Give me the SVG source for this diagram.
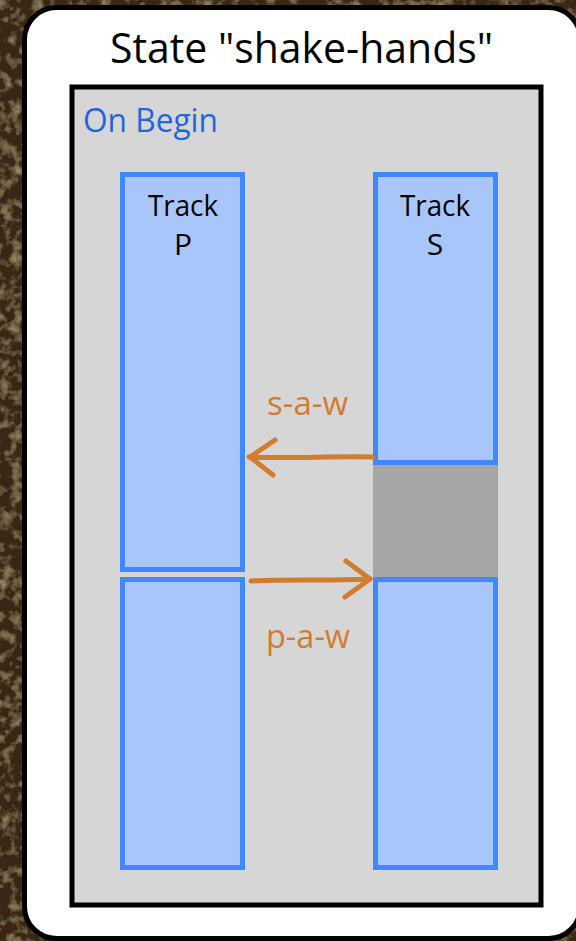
<svg xmlns="http://www.w3.org/2000/svg" width="576" height="941" viewBox="0 0 576 941">
  <defs>
    <filter id="wood" x="0" y="0" width="100%" height="100%">
      <feTurbulence type="fractalNoise" baseFrequency="0.09" numOctaves="3" seed="4" result="n"/>
      <feColorMatrix in="n" type="matrix" values="0 0 0 0 0.45  0 0 0 0 0.36  0 0 0 0 0.18  1.6 0 0 0 -0.75" result="c"/>
      <feComposite in="c" in2="SourceGraphic" operator="over"/>
    </filter>
    <style>
      .track { fill: #a9c6fb; stroke: #3f88ff; stroke-width: 5; }
      .lbl { font-family: "Open Sans", "Liberation Sans", sans-serif; }
      .trk { font-size: 30px; fill: #000000; text-anchor: middle; }
      .edge { fill: none; stroke: #d17c2e; stroke-width: 5; stroke-linecap: round; stroke-linejoin: round; }
      .elbl { font-size: 32px; fill: #d17c2e; }
    </style>
  </defs>
  <rect x="0" y="0" width="576" height="941" fill="#3a2814" filter="url(#wood)"/>
  <g id="state">
    <rect x="24.5" y="7.5" width="556" height="931" rx="32" fill="#ffffff" stroke="#000000" stroke-width="5"/>
    <text class="lbl" x="110" y="63" font-size="42" textLength="383" lengthAdjust="spacingAndGlyphs" fill="#000000">State "shake-hands"</text>
  </g>
  <g id="on-begin">
    <rect x="72" y="87" width="469" height="818" fill="#d6d6d6" stroke="#000000" stroke-width="5"/>
    <text class="lbl" x="83" y="132" font-size="33" textLength="135" lengthAdjust="spacingAndGlyphs" fill="#1f66e0">On Begin</text>
  </g>
  <g id="track-s-wait">
    <rect x="373" y="462" width="125" height="118" fill="#a6a6a6"/>
  </g>
  <g id="track-p-upper">
    <rect class="track" x="122.5" y="174.5" width="120" height="395"/>
    <text class="lbl trk" x="183" y="216" textLength="70" lengthAdjust="spacingAndGlyphs">Track</text>
    <text class="lbl trk" x="183" y="255">P</text>
  </g>
  <g id="track-p-lower">
    <rect class="track" x="122.5" y="579.5" width="120" height="288"/>
  </g>
  <g id="track-s-upper">
    <rect class="track" x="375.5" y="174.5" width="120" height="288"/>
    <text class="lbl trk" x="435" y="216" textLength="70" lengthAdjust="spacingAndGlyphs">Track</text>
    <text class="lbl trk" x="435" y="255">S</text>
  </g>
  <g id="track-s-lower">
    <rect class="track" x="375.5" y="579.5" width="120" height="288"/>
  </g>
  <g id="connectors">
    <path class="edge" d="M373 457 C330 456 290 459 249 457"/>
    <path class="edge" d="M275 440 L250 457 L273 475" stroke-width="4"/>
    <path class="edge" d="M251 581 C290 579 330 581 370 579"/>
    <path class="edge" d="M346 561 L370 579 L345 597" stroke-width="4"/>
    <text class="lbl elbl" x="267" y="415" textLength="81" lengthAdjust="spacingAndGlyphs">s-a-w</text>
    <text class="lbl elbl" x="266" y="648" textLength="84" lengthAdjust="spacingAndGlyphs">p-a-w</text>
  </g>
</svg>
